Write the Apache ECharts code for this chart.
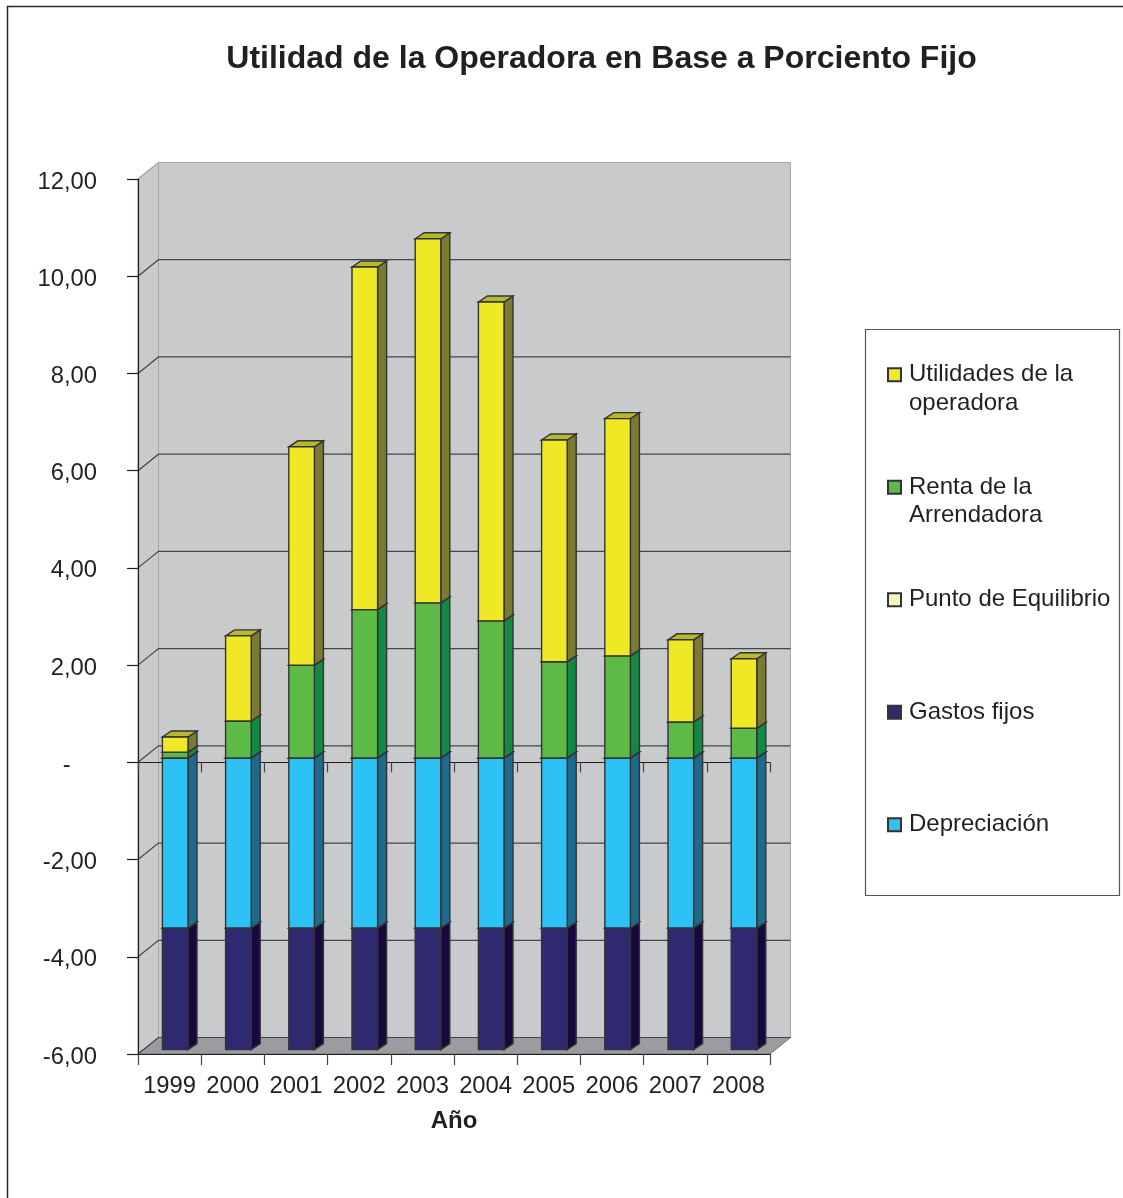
<!DOCTYPE html>
<html>
<head>
<meta charset="utf-8">
<style>html,body{margin:0;padding:0;background:#fff}#chart{width:1123px;height:1198px}</style>
<script src="https://cdn.jsdelivr.net/npm/echarts@6/dist/echarts.min.js"></script>
</head>
<body>
<div id="chart"></div>
<script>
// Operator's profit by year, stacked (per-cent-fixed scheme)
const years = ['1999','2000','2001','2002','2003','2004','2005','2006','2007','2008'];
const utilidades = [0.31,1.75,4.49,7.05,7.49,6.56,4.56,4.88,1.69,1.43];
const renta = [0.12,0.76,1.91,3.05,3.19,2.82,1.98,2.10,0.74,0.61];
const equilibrio = [0,0,0,0,0,0,0,0,0,0];
const gastos = [-2.5,-2.5,-2.5,-2.5,-2.5,-2.5,-2.5,-2.5,-2.5,-2.5];
const depreciacion = [-3.5,-3.5,-3.5,-3.5,-3.5,-3.5,-3.5,-3.5,-3.5,-3.5];
const yTicks = [-6,-4,-2,0,2,4,6,8,10,12];
const yTickLabels = ['-6,00','-4,00','-2,00','-    ','2,00','4,00','6,00','8,00','10,00','12,00'];

const FONT = '"Liberation Sans", Arial, sans-serif';
const INK = '#231f20';
// Oblique projection: how far the back wall and the bars sit behind the axis plane
const WALL_DX = 20.5, WALL_DY = -16.5;
const BAR_DX = 5.6, BAR_DY = -4.4, BAR_W = 0.405, BAR_DEPTH_X = 9, BAR_DEPTH_Y = -6;

function poly(points, fill, stroke, width) {
  return { type: 'polygon', shape: { points }, style: { fill, stroke: stroke || 'none', lineWidth: width || 0 } };
}

// Walls and floor of the box, spanning the full plot range
function renderWalls(params, api) {
  const band = api.size([1, 0])[0];
  const x0 = api.coord([0, 12])[0] - band / 2;
  const x1 = x0 + band * years.length;
  const yTop = api.coord([0, 12])[1];
  const yBot = api.coord([0, -6])[1];
  const edge = '#a3a5a7';
  return { type: 'group', children: [
    poly([[x0, yTop], [x0 + WALL_DX, yTop + WALL_DY], [x0 + WALL_DX, yBot + WALL_DY], [x0, yBot]], '#c9cacc', edge, 1),
    poly([[x0 + WALL_DX, yTop + WALL_DY], [x1 + WALL_DX, yTop + WALL_DY], [x1 + WALL_DX, yBot + WALL_DY], [x0 + WALL_DX, yBot + WALL_DY]], '#c9cacc', edge, 1),
    poly([[x0, yBot], [x0 + WALL_DX, yBot + WALL_DY], [x1 + WALL_DX, yBot + WALL_DY], [x1, yBot]], '#9a9c9f', '#6f7173', 1)
  ]};
}

// One grid line per tick, running along the side wall and across the back wall
function renderGridLine(params, api) {
  const band = api.size([1, 0])[0];
  const v = api.value(0);
  const y = api.coord([0, v])[1];
  const x0 = api.coord([0, v])[0] - band / 2;
  const x1 = x0 + band * years.length;
  const color = v === 12 ? '#a3a5a7' : '#444648';
  return { type: 'polyline', shape: { points: [[x0, y], [x0 + WALL_DX, y + WALL_DY], [x1 + WALL_DX, y + WALL_DY]] },
    style: { fill: 'none', stroke: color, lineWidth: 1.2 } };
}

// A prism for one stack segment: side face, top face, then front face
function prismRenderer(front, side, top) {
  return function (params, api) {
    const cat = api.value(0);
    const a = api.coord([cat, api.value(1)]);
    const b = api.coord([cat, api.value(2)]);
    const w = api.size([1, 0])[0] * BAR_W;
    const xl = a[0] + BAR_DX - w / 2, xr = xl + w;
    const yHigh = Math.min(a[1], b[1]) + BAR_DY, yLow = Math.max(a[1], b[1]) + BAR_DY;
    const line = '#333';
    const lw = 1.4;
    return { type: 'group', children: [
      poly([[xr, yHigh], [xr + BAR_DEPTH_X, yHigh + BAR_DEPTH_Y], [xr + BAR_DEPTH_X, yLow + BAR_DEPTH_Y], [xr, yLow]], side, line, lw),
      poly([[xl, yHigh], [xl + BAR_DEPTH_X, yHigh + BAR_DEPTH_Y], [xr + BAR_DEPTH_X, yHigh + BAR_DEPTH_Y], [xr, yHigh]], top, line, lw),
      poly([[xl, yHigh], [xr, yHigh], [xr, yLow], [xl, yLow]], front, line, lw)
    ]};
  };
}

// Turn a list of values into [category, start, end] segments on top of a base
function stackOn(values, base) {
  return values.map((v, i) => [i, base[i], base[i] + v]);
}
const zeros = years.map(() => 0);
const segGastos = stackOn(gastos, depreciacion);
const segDepreciacion = stackOn(depreciacion, zeros);
const segRenta = stackOn(renta, zeros);
const segEquilibrio = stackOn(equilibrio, zeros);
const segUtilidades = stackOn(utilidades, renta);

function prismSeries(name, seg, front, side, top) {
  return {
    name, type: 'custom', coordinateSystem: 'cartesian2d', z: 3, clip: false,
    itemStyle: { color: front, borderColor: '#333', borderWidth: 1 },
    encode: { x: 0, y: [1, 2] }, data: seg,
    renderItem: prismRenderer(front, side, top)
  };
}

const legendLabels = {
  'Utilidades de la operadora': '\nUtilidades de la\noperadora',
  'Renta de la Arrendadora': '\nRenta de la\nArrendadora',
  'Punto de Equilibrio': '\nPunto de Equilibrio\n',
  'Gastos fijos': '\nGastos fijos\n',
  'Depreciación': '\nDepreciación\n'
};

const chart = echarts.init(document.getElementById('chart'), null, { renderer: 'canvas' });
chart.setOption({
  animation: false,
  backgroundColor: '#fff',
  title: {
    text: 'Utilidad de la Operadora en Base a Porciento Fijo',
    left: 596.5, top: 38, textAlign: 'center',
    textStyle: { fontFamily: FONT, fontSize: 32, fontWeight: 'bold', color: INK }
  },
  grid: { left: 138, right: 353, top: 179, bottom: 144, containLabel: false },
  xAxis: [
    { type: 'category', data: years, position: 'bottom', z: 1,
      axisLine: { onZero: false, lineStyle: { color: INK, width: 1.2 } },
      axisTick: { show: true, length: 11, alignWithLabel: false, lineStyle: { color: '#444', width: 1.2 } },
      axisLabel: { interval: 0, margin: 20, fontFamily: FONT, fontSize: 23.8, color: INK },
      name: 'Año', nameLocation: 'middle', nameGap: 55,
      nameTextStyle: { fontFamily: FONT, fontSize: 24, fontWeight: 'bold', color: INK }
    },
    { type: 'category', data: years, position: 'bottom', z: 1,
      axisLine: { onZero: true, lineStyle: { color: INK, width: 1.2 } },
      axisTick: { show: true, length: 10, alignWithLabel: false, lineStyle: { color: '#444', width: 1.2 } },
      axisLabel: { show: false }
    }
  ],
  yAxis: {
    type: 'value', min: -6, max: 12, interval: 2, z: 1,
    axisLine: { show: true, onZero: false, lineStyle: { color: INK, width: 1.2 } },
    axisTick: { show: true, length: 11, lineStyle: { color: INK, width: 1.2 } },
    splitLine: { show: false },
    axisLabel: {
      margin: 41,
      formatter: v => '{t|' + yTickLabels[yTicks.indexOf(v)] + '}',
      rich: { t: { fontFamily: FONT, fontSize: 23.8, color: INK, padding: [6, 0, 0, 0] } }
    }
  },
  legend: {
    orient: 'vertical', left: 882, top: 327,
    icon: 'rect',
    itemWidth: 13, itemHeight: 13, itemGap: 27,
    data: Object.keys(legendLabels),
    formatter: n => legendLabels[n],
    textStyle: { fontFamily: FONT, fontSize: 24, lineHeight: 28.5, color: INK, padding: [0, 0, 0, 3] },
    selectedMode: false
  },
  graphic: [
    { type: 'rect', z: -10, silent: true, shape: { x: 7.5, y: 6.5, width: 1130, height: 1210 },
      style: { fill: 'none', stroke: '#2a2a2a', lineWidth: 1.5 } },
    { type: 'rect', z: -9, silent: true, shape: { x: 865.5, y: 329.5, width: 254, height: 566 },
      style: { fill: '#fff', stroke: '#555', lineWidth: 1.2 } }
  ],
  series: [
    { type: 'custom', name: 'paredes', z: 0, clip: false, silent: true, data: [[0]], renderItem: renderWalls },
    { type: 'custom', name: 'rejilla', z: 0, clip: false, silent: true, data: yTicks.map(v => [v]), renderItem: renderGridLine, encode: { y: 0 } },
    prismSeries('Gastos fijos', segGastos, '#2f2a70', '#15093f', '#2f2a70'),
    prismSeries('Depreciación', segDepreciacion, '#2dc2f5', '#1e6a8c', '#2dc2f5'),
    prismSeries('Punto de Equilibrio', segEquilibrio, '#f7f5c0', '#b8b78a', '#f7f5c0'),
    prismSeries('Renta de la Arrendadora', segRenta, '#5dba47', '#128a45', '#4ea23c'),
    prismSeries('Utilidades de la operadora', segUtilidades, '#efe824', '#7a7a32', '#b8b82f')
  ]
});
</script>
</body>
</html>
